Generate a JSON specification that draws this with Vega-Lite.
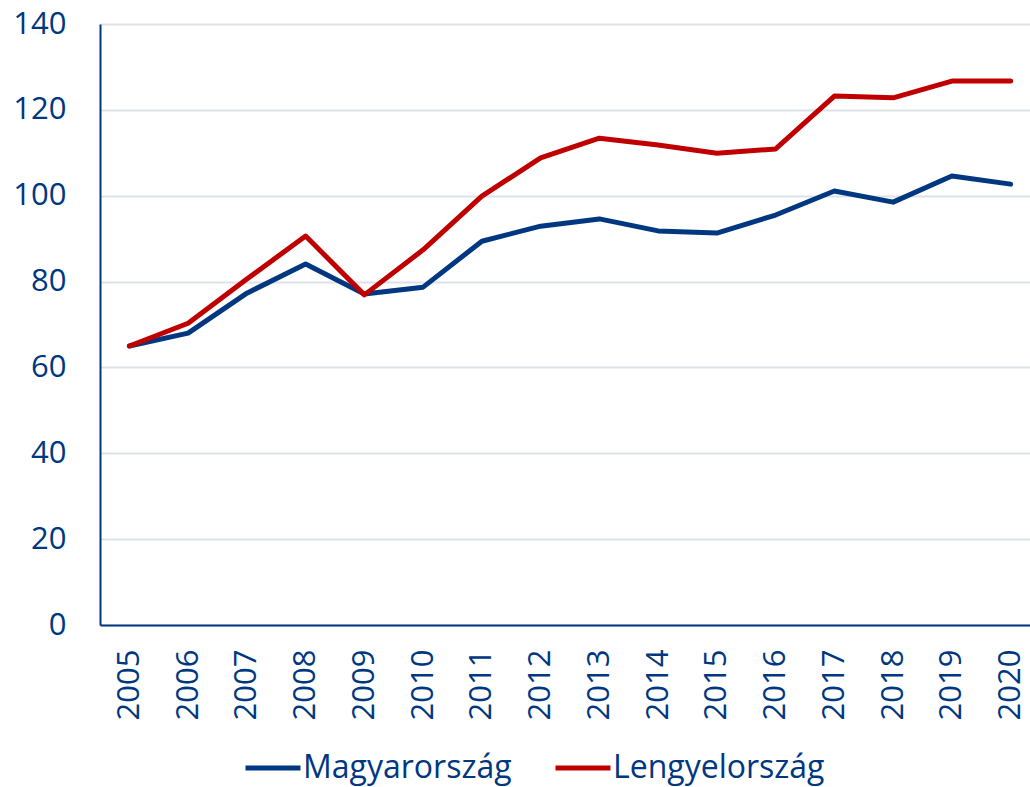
{
  "$schema": "https://vega.github.io/schema/vega-lite/v6.json",
  "autosize": "none",
  "padding": {"left": 100, "top": 24, "right": 0, "bottom": 162},
  "width": 940,
  "height": 601,
  "background": "white",
  "config": {
    "view": {"stroke": null},
    "font": "Open Sans"
  },
  "data": {
    "values": [
      {"ev": "2005", "orszag": "Magyarország", "ertek": 65.0},
      {"ev": "2006", "orszag": "Magyarország", "ertek": 68.0},
      {"ev": "2007", "orszag": "Magyarország", "ertek": 77.3},
      {"ev": "2008", "orszag": "Magyarország", "ertek": 84.1},
      {"ev": "2009", "orszag": "Magyarország", "ertek": 77.1},
      {"ev": "2010", "orszag": "Magyarország", "ertek": 78.7},
      {"ev": "2011", "orszag": "Magyarország", "ertek": 89.4},
      {"ev": "2012", "orszag": "Magyarország", "ertek": 92.9},
      {"ev": "2013", "orszag": "Magyarország", "ertek": 94.6},
      {"ev": "2014", "orszag": "Magyarország", "ertek": 91.8},
      {"ev": "2015", "orszag": "Magyarország", "ertek": 91.3},
      {"ev": "2016", "orszag": "Magyarország", "ertek": 95.5},
      {"ev": "2017", "orszag": "Magyarország", "ertek": 101.1},
      {"ev": "2018", "orszag": "Magyarország", "ertek": 98.5},
      {"ev": "2019", "orszag": "Magyarország", "ertek": 104.6},
      {"ev": "2020", "orszag": "Magyarország", "ertek": 102.7},
      {"ev": "2005", "orszag": "Lengyelország", "ertek": 65.0},
      {"ev": "2006", "orszag": "Lengyelország", "ertek": 70.3},
      {"ev": "2007", "orszag": "Lengyelország", "ertek": 80.6},
      {"ev": "2008", "orszag": "Lengyelország", "ertek": 90.6},
      {"ev": "2009", "orszag": "Lengyelország", "ertek": 76.9},
      {"ev": "2010", "orszag": "Lengyelország", "ertek": 87.4},
      {"ev": "2011", "orszag": "Lengyelország", "ertek": 99.9},
      {"ev": "2012", "orszag": "Lengyelország", "ertek": 108.8},
      {"ev": "2013", "orszag": "Lengyelország", "ertek": 113.4},
      {"ev": "2014", "orszag": "Lengyelország", "ertek": 111.8},
      {"ev": "2015", "orszag": "Lengyelország", "ertek": 109.9},
      {"ev": "2016", "orszag": "Lengyelország", "ertek": 110.9},
      {"ev": "2017", "orszag": "Lengyelország", "ertek": 123.2},
      {"ev": "2018", "orszag": "Lengyelország", "ertek": 122.8},
      {"ev": "2019", "orszag": "Lengyelország", "ertek": 126.7},
      {"ev": "2020", "orszag": "Lengyelország", "ertek": 126.7}
    ]
  },
  "mark": {"type": "line", "strokeWidth": 5, "strokeCap": "round", "strokeJoin": "round"},
  "encoding": {
    "x": {
      "field": "ev",
      "type": "ordinal",
      "scale": {"type": "point", "padding": 0.5},
      "axis": {
        "title": null,
        "labelAngle": -90,
        "labelFontSize": 31,
        "labelColor": "#003781",
        "labelPadding": 24,
        "ticks": false,
        "domainColor": "#003781",
        "domainWidth": 2,
        "grid": false
      }
    },
    "y": {
      "field": "ertek",
      "type": "quantitative",
      "scale": {"domain": [0, 140], "nice": false},
      "axis": {
        "title": null,
        "values": [0, 20, 40, 60, 80, 100, 120, 140],
        "labelFontSize": 31,
        "labelColor": "#003781",
        "labelPadding": 34,
        "ticks": false,
        "domainColor": "#003781",
        "domainWidth": 2,
        "gridColor": "#DDE2EA",
        "gridWidth": 2
      }
    },
    "color": {
      "field": "orszag",
      "type": "nominal",
      "sort": ["Magyarország", "Lengyelország"],
      "scale": {"domain": ["Magyarország", "Lengyelország"], "range": ["#003781", "#C00000"]},
      "legend": {
        "title": null,
        "orient": "none",
        "direction": "horizontal",
        "legendX": 143,
        "legendY": 714,
        "symbolType": "stroke",
        "symbolStrokeWidth": 5,
        "symbolSize": 3025,
        "labelFontSize": 32,
        "labelLimit": 400,
        "labelColor": "#003781",
        "labelOffset": 0,
        "columnPadding": 33
      }
    }
  }
}
